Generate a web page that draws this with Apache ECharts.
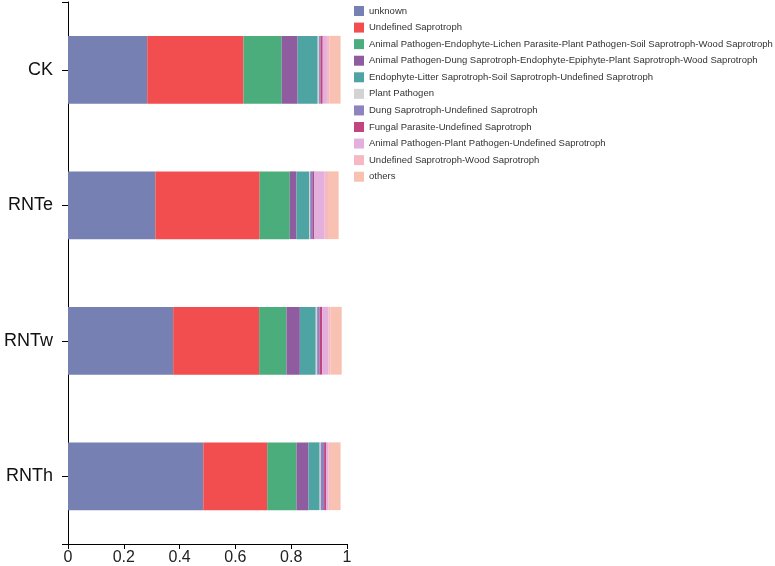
<!DOCTYPE html>
<html>
<head>
<meta charset="utf-8">
<script src="https://cdn.jsdelivr.net/npm/echarts@6/dist/echarts.min.js"></script>
<style>html,body{margin:0;padding:0;background:#fff;}#c{width:775px;height:566px;}</style>
</head>
<body>
<div id="c"></div>
<script>
const categories = ['CK', 'RNTe', 'RNTw', 'RNTh'];
const xTicks = [0, 0.2, 0.4, 0.6, 0.8, 1];
const seriesNames = [
  'unknown',
  'Undefined Saprotroph',
  'Animal Pathogen-Endophyte-Lichen Parasite-Plant Pathogen-Soil Saprotroph-Wood Saprotroph',
  'Animal Pathogen-Dung Saprotroph-Endophyte-Epiphyte-Plant Saprotroph-Wood Saprotroph',
  'Endophyte-Litter Saprotroph-Soil Saprotroph-Undefined Saprotroph',
  'Plant Pathogen',
  'Dung Saprotroph-Undefined Saprotroph',
  'Fungal Parasite-Undefined Saprotroph',
  'Animal Pathogen-Plant Pathogen-Undefined Saprotroph',
  'Undefined Saprotroph-Wood Saprotroph',
  'others'
];
// values per series, in category order CK, RNTe, RNTw, RNTh
const unknown            = [0.284, 0.313, 0.377, 0.485];
const undefinedSap       = [0.345, 0.374, 0.308, 0.229];
const apEndophyteLichen  = [0.137, 0.108, 0.098, 0.105];
const apDungEndophyte    = [0.057, 0.024, 0.048, 0.043];
const endophyteLitter    = [0.072, 0.045, 0.057, 0.040];
const plantPathogen      = [0.005, 0.004, 0.005, 0.004];
const dungSapUndefined   = [0.005, 0.010, 0.009, 0.012];
const fungalParasite     = [0.008, 0.005, 0.009, 0.008];
const apPlantPathogen    = [0.015, 0.037, 0.022, 0.007];
const undefinedWood      = [0.010, 0.012, 0.008, 0.006];
const others             = [0.039, 0.038, 0.040, 0.038];
const seriesValues = [unknown, undefinedSap, apEndophyteLichen, apDungEndophyte, endophyteLitter,
  plantPathogen, dungSapUndefined, fungalParasite, apPlantPathogen, undefinedWood, others];
const colors = ['#7780B3', '#F24D4F', '#4BAD7B', '#8F5C9F', '#4EA3A3', '#D3D3D3',
  '#8E82BF', '#C1457F', '#E3AFDC', '#F6B9C4', '#F8C1B1'];

const FONT = '"Liberation Sans", Arial, Helvetica, sans-serif';
const chart = echarts.init(document.getElementById('c'), null, {renderer: 'canvas'});
chart.setOption({
  animation: false,
  color: colors,
  grid: {left: 68, right: 428, top: 2, bottom: 22, containLabel: false},
  legend: {
    orient: 'vertical', left: 349, top: 1,
    itemWidth: 10, itemHeight: 10, itemGap: 6.57,
    icon: 'rect',
    textStyle: {fontFamily: FONT, fontSize: 9.5, color: '#333', lineHeight: 10},
    data: seriesNames
  },
  xAxis: {
    type: 'value', min: 0, max: 1, interval: 0.2,
    axisLine: {show: true, lineStyle: {color: '#000', width: 1}},
    axisTick: {show: true, length: 5, lineStyle: {color: '#000'}},
    splitLine: {show: false},
    axisLabel: {fontFamily: FONT, fontSize: 16, color: '#222', margin: 6,
      formatter: v => (xTicks.indexOf(Math.round(v * 10) / 10) >= 0 ? String(Math.round(v * 10) / 10) : '')}
  },
  yAxis: [{
    type: 'category', inverse: true, data: categories,
    axisLine: {show: true, lineStyle: {color: '#000', width: 1}},
    axisTick: {show: true, alignWithLabel: true, length: 6, lineStyle: {color: '#000'}},
    axisLabel: {fontFamily: FONT, fontSize: 18, color: '#111', margin: 15}
  }, {
    type: 'value', min: 0, max: 4, interval: 4, position: 'left',
    axisLine: {show: false},
    axisTick: {show: true, inside: false, length: 6, lineStyle: {color: '#000'}},
    axisLabel: {show: false}, splitLine: {show: false}
  }],
  series: seriesNames.map((name, i) => ({
    name: name, type: 'bar', stack: 'total', yAxisIndex: 0,
    barWidth: '50%',
    data: seriesValues[i],
    itemStyle: {color: colors[i]},
    emphasis: {disabled: true}
  }))
});
</script>
</body>
</html>
